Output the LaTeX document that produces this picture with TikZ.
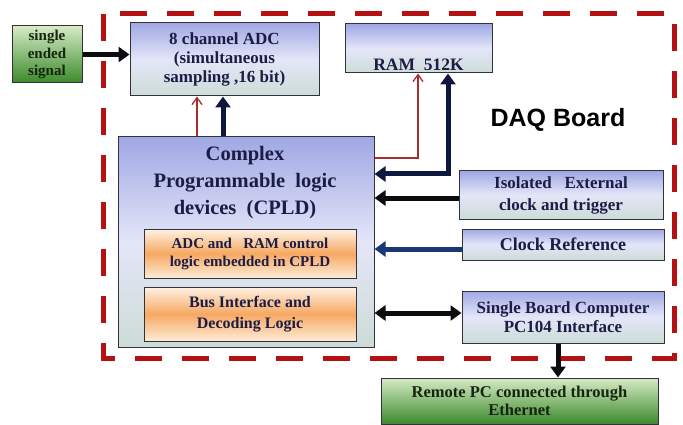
\documentclass[tikz,border=0pt]{standalone}
\usepackage{fontspec}
\setmainfont{Liberation Serif}
\newfontfamily\sansf{Liberation Sans}
\usetikzlibrary{arrows.meta,calc}
\definecolor{navytxt}{RGB}{28,28,70}
\definecolor{greentxt}{RGB}{22,36,16}
\definecolor{boxborder}{RGB}{50,50,60}
\definecolor{blueTop}{RGB}{160,168,228}
\definecolor{blueMid}{RGB}{228,230,248}
\definecolor{blueBot}{RGB}{205,220,215}
\definecolor{orTop}{RGB}{254,242,228}
\definecolor{orMid}{RGB}{246,168,98}
\definecolor{orBot}{RGB}{254,236,214}
\definecolor{grTop}{RGB}{214,234,198}
\definecolor{grBot}{RGB}{58,138,42}
\definecolor{daqred}{RGB}{180,18,18}
\definecolor{thinred}{RGB}{170,45,45}
\definecolor{navyarr}{RGB}{14,24,62}
\definecolor{clkarr}{RGB}{26,56,120}
\definecolor{blkarr}{RGB}{12,12,16}
\newcommand{\fsz}[2]{\fontsize{#1}{#2}\selectfont\bfseries}
\begin{document}
\begin{tikzpicture}[x=1pt,y=-1pt,
  bluebox/.style={draw=boxborder, line width=1pt, top color=blueTop, bottom color=blueBot, middle color=blueMid, text=navytxt, align=center, inner sep=2pt},
  orangebox/.style={draw=boxborder, line width=1pt, top color=orTop, bottom color=orBot, middle color=orMid, text=navytxt, align=center, inner sep=2pt},
  greenbox/.style={draw=boxborder, line width=1pt, top color=grTop, bottom color=grBot, text=greentxt, align=center, inner sep=2pt},
  thickarr/.style={line width=5pt, -{Triangle[length=11pt,width=15pt]}},
  dblarr/.style={line width=5pt, {Triangle[length=11pt,width=15pt]}-{Triangle[length=11pt,width=15pt]}},
  redarr/.style={line width=1.3pt, draw=thinred, -{Straight Barb[length=7pt,width=10pt]}}
]
\useasboundingbox (0,0) rectangle (683,425);
\fill[white] (0,0) rectangle (683,425);

% dashed board outline
\draw[daqred, line width=5pt, dash pattern=on 27pt off 20pt] (103,14) rectangle (674,358);

% nodes
\node[greenbox, minimum width=70pt, minimum height=57pt, font=\fsz{15}{17.5}] (sig) at (47,54.5)
  {single\\ended\\signal};
\node[bluebox, minimum width=189pt, minimum height=73pt, font=\fsz{17}{19}] (adc) at (224.5,59.5)
  {8 channel ADC\\(simultaneous\\sampling ,16 bit)};
\node[bluebox, minimum width=147pt, minimum height=49pt] (ram) at (418.5,48.5) {};
\node[text=navytxt, font=\fsz{17.5}{19}] (ramlbl) at (418.5,65) {RAM\ \ 512K};
\node[font=\sansf\bfseries\fontsize{25}{28}\selectfont] (daq) at (558,120) {DAQ Board};

\node[bluebox, minimum width=256pt, minimum height=210pt] (cpld) at (246,242) {};
\node[text=navytxt, align=center, font=\fsz{20.5}{27}] (cpldlbl) at (245,183)
  {Complex\\Programmable\ \ logic\\devices\ \ (CPLD)};
\node[orangebox, minimum width=212pt, minimum height=49pt, font=\fsz{15}{18}] (sub1) at (250,253.5)
  {ADC and\ \ \ RAM control\\logic embedded in CPLD};
\node[orangebox, minimum width=212pt, minimum height=54pt, font=\fsz{16}{21}] (sub2) at (250,314)
  {Bus Interface and\\Decoding Logic};

\node[bluebox, minimum width=204pt, minimum height=48pt, font=\fsz{17}{22}] (iso) at (561,195)
  {Isolated\ \ \ External\\clock and\ trigger};
\node[bluebox, minimum width=202pt, minimum height=31pt, font=\fsz{18}{20}] (clk) at (563,244.5)
  {Clock Reference};
\node[bluebox, minimum width=202pt, minimum height=52pt, font=\fsz{17}{19}] (sbc) at (563,317)
  {Single Board Computer\\PC104 Interface};
\node[greenbox, minimum width=277pt, minimum height=46pt, font=\fsz{16.5}{18}] (rpc) at (519.5,401)
  {Remote PC connected through\\Ethernet};

% helper coordinates
\coordinate (r1) at (197,0);
\coordinate (n1) at (223,0);
\coordinate (r2) at (418,158);
\coordinate (n2) at (448,174);
\coordinate (c1) at (0,198);
\coordinate (c2) at (0,249);
\coordinate (c3) at (0,313);
\coordinate (c4) at (558,0);

% connectors
\draw[thickarr, blkarr] (sig.east) -- (adc.west |- sig.east);
\draw[redarr] (cpld.north -| r1) -- (adc.south -| r1);
\draw[thickarr, navyarr] (cpld.north -| n1) -- (adc.south -| n1);
\draw[redarr] (r2 -| cpld.east) -- (r2) -- (ram.south -| r2);
\draw[dblarr, navyarr, line join=miter] (ram.south -| n2) -- (n2) -- (n2 -| cpld.east);
\draw[thickarr, blkarr] (iso.west |- c1) -- (cpld.east |- c1);
\draw[thickarr, clkarr] (clk.west |- c2) -- (cpld.east |- c2);
\draw[dblarr, blkarr] (sbc.west |- c3) -- (cpld.east |- c3);
\draw[thickarr, blkarr] (sbc.south -| c4) -- (rpc.north -| c4);
\end{tikzpicture}
\end{document}
